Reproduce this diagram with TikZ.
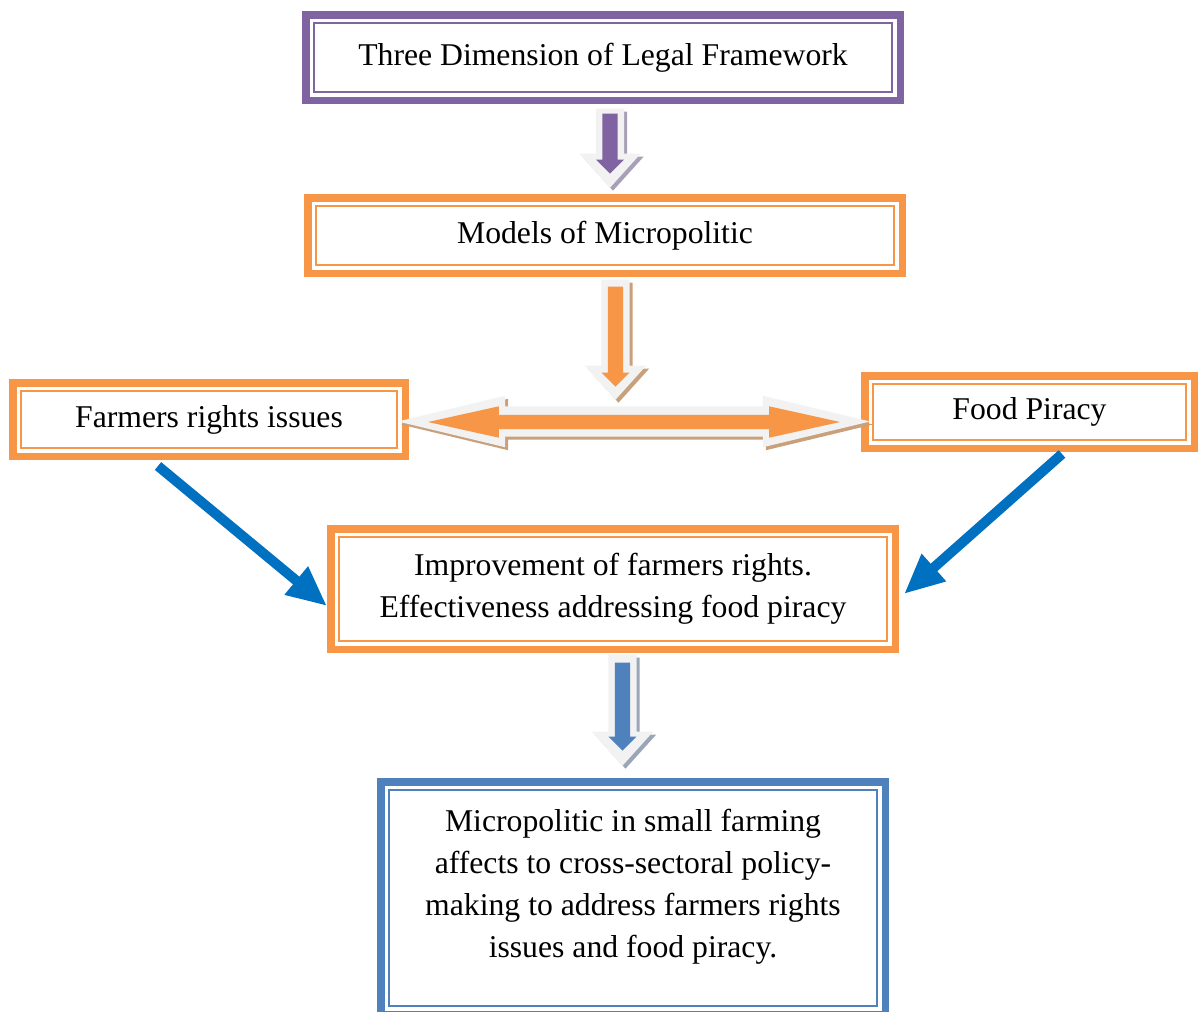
\documentclass[tikz,border=0pt]{standalone}
\usepackage{fontspec}
\setmainfont{Liberation Serif}
\usepackage{tikz}
\usetikzlibrary{arrows.meta,shapes.arrows,shadows}
\definecolor{violetline}{HTML}{8064A2}
\definecolor{orangeline}{HTML}{F79646}
\definecolor{blueline}{HTML}{4F81BD}
\definecolor{arrowblue}{HTML}{0070C0}
\definecolor{ghost}{HTML}{F2F2F2}
\definecolor{tanshade}{HTML}{C9A07C}
\definecolor{violetshade}{HTML}{A8A0B6}
\definecolor{blueshade}{HTML}{9AA6B8}

\begin{document}
\begin{tikzpicture}[x=1pt, y=-1pt,
  frame/.style={draw=#1, line width=2, fill=white, align=center, inner sep=0pt, font=\fontsize{31.7}{42}\selectfont},
  outline/.style={draw=#1, line width=7.5},
  fatdown/.style={single arrow, shape border rotate=270, anchor=tip, fill=ghost, inner sep=14, single arrow head extend=16.5, single arrow tip angle=84,
    drop shadow={shadow xshift=3pt, shadow yshift=-3pt, fill=#1, opacity=1}},
  thindown/.style={single arrow, shape border rotate=270, anchor=tip, fill=#1, inner sep=7.5, single arrow head extend=6.5, single arrow tip angle=90},
  link/.style={draw=arrowblue, line width=10, -{Triangle[length=40pt, width=34pt]}}]
  \path[use as bounding box, fill=white] (0,0) rectangle (1203,1012);

  % boxes
  \node[frame=violetline, minimum width=578, minimum height=69] (legal) at (603,57.5) {Three Dimension of Legal Framework};
  \node[frame=orangeline, minimum width=578, minimum height=59] (models) at (605,235.5) {Models of Micropolitic};
  \node[frame=orangeline, minimum width=376, minimum height=57] (farmers) at (209,419.5) {Farmers rights issues};
  \node[frame=orangeline, minimum width=313, minimum height=56] (piracy) at (1029.5,412) {Food Piracy};
  \node[frame=orangeline, minimum width=548, minimum height=104] (improve) at (613,589) {Improvement of farmers rights.\\ Effectiveness addressing food piracy};
  \node[frame=blueline, minimum width=488, minimum height=216, text depth=29pt] (policy) at (633,898) {Micropolitic in small farming\\ affects to cross-sectoral policy-\\ making to address farmers rights\\ issues and food piracy.};

  % thick outer frames
  \foreach \n/\c in {legal/violetline, models/orangeline, farmers/orangeline, piracy/orangeline, improve/orangeline, policy/blueline}
    \draw[outline=\c] ([shift={(-7.25,-7.25)}]\n.north west) rectangle ([shift={(7.25,7.25)}]\n.south east);

  % block arrows
  \node[fatdown=violetshade, minimum height=79] (a1) at (610,188) {};
  \node[thindown=violetline, minimum height=60] (a1in) at (610,174) {};
  \node[fatdown=tanshade, minimum height=120] (a2) at (615.5,400) {};
  \node[thindown=orangeline, minimum height=100] (a2in) at (615.5,387) {};
  \node[double arrow, fill=ghost, inner sep=15, double arrow head extend=10.5, double arrow tip angle=27, minimum height=472,
    drop shadow={shadow xshift=3pt, shadow yshift=-3pt, fill=tanshade, opacity=1}] (both) at (634,421.5) {};
  \node[double arrow, fill=orangeline, inner sep=7, double arrow head extend=8.5, double arrow tip angle=25, minimum height=412] (bothin) at (634,422) {};
  \node[fatdown=blueshade, minimum height=111] (a4) at (622.5,766) {};
  \node[thindown=blueline, minimum height=88] (a4in) at (622.5,751) {};

  % diagonal links
  \draw[link] ([shift={(-51,17)}]farmers.south) -- ([shift={(-11,17)}]improve.west);
  \draw[link] ([shift={(32.5,13)}]piracy.south) -- ([shift={(16,5)}]improve.east);
\end{tikzpicture}
\end{document}
